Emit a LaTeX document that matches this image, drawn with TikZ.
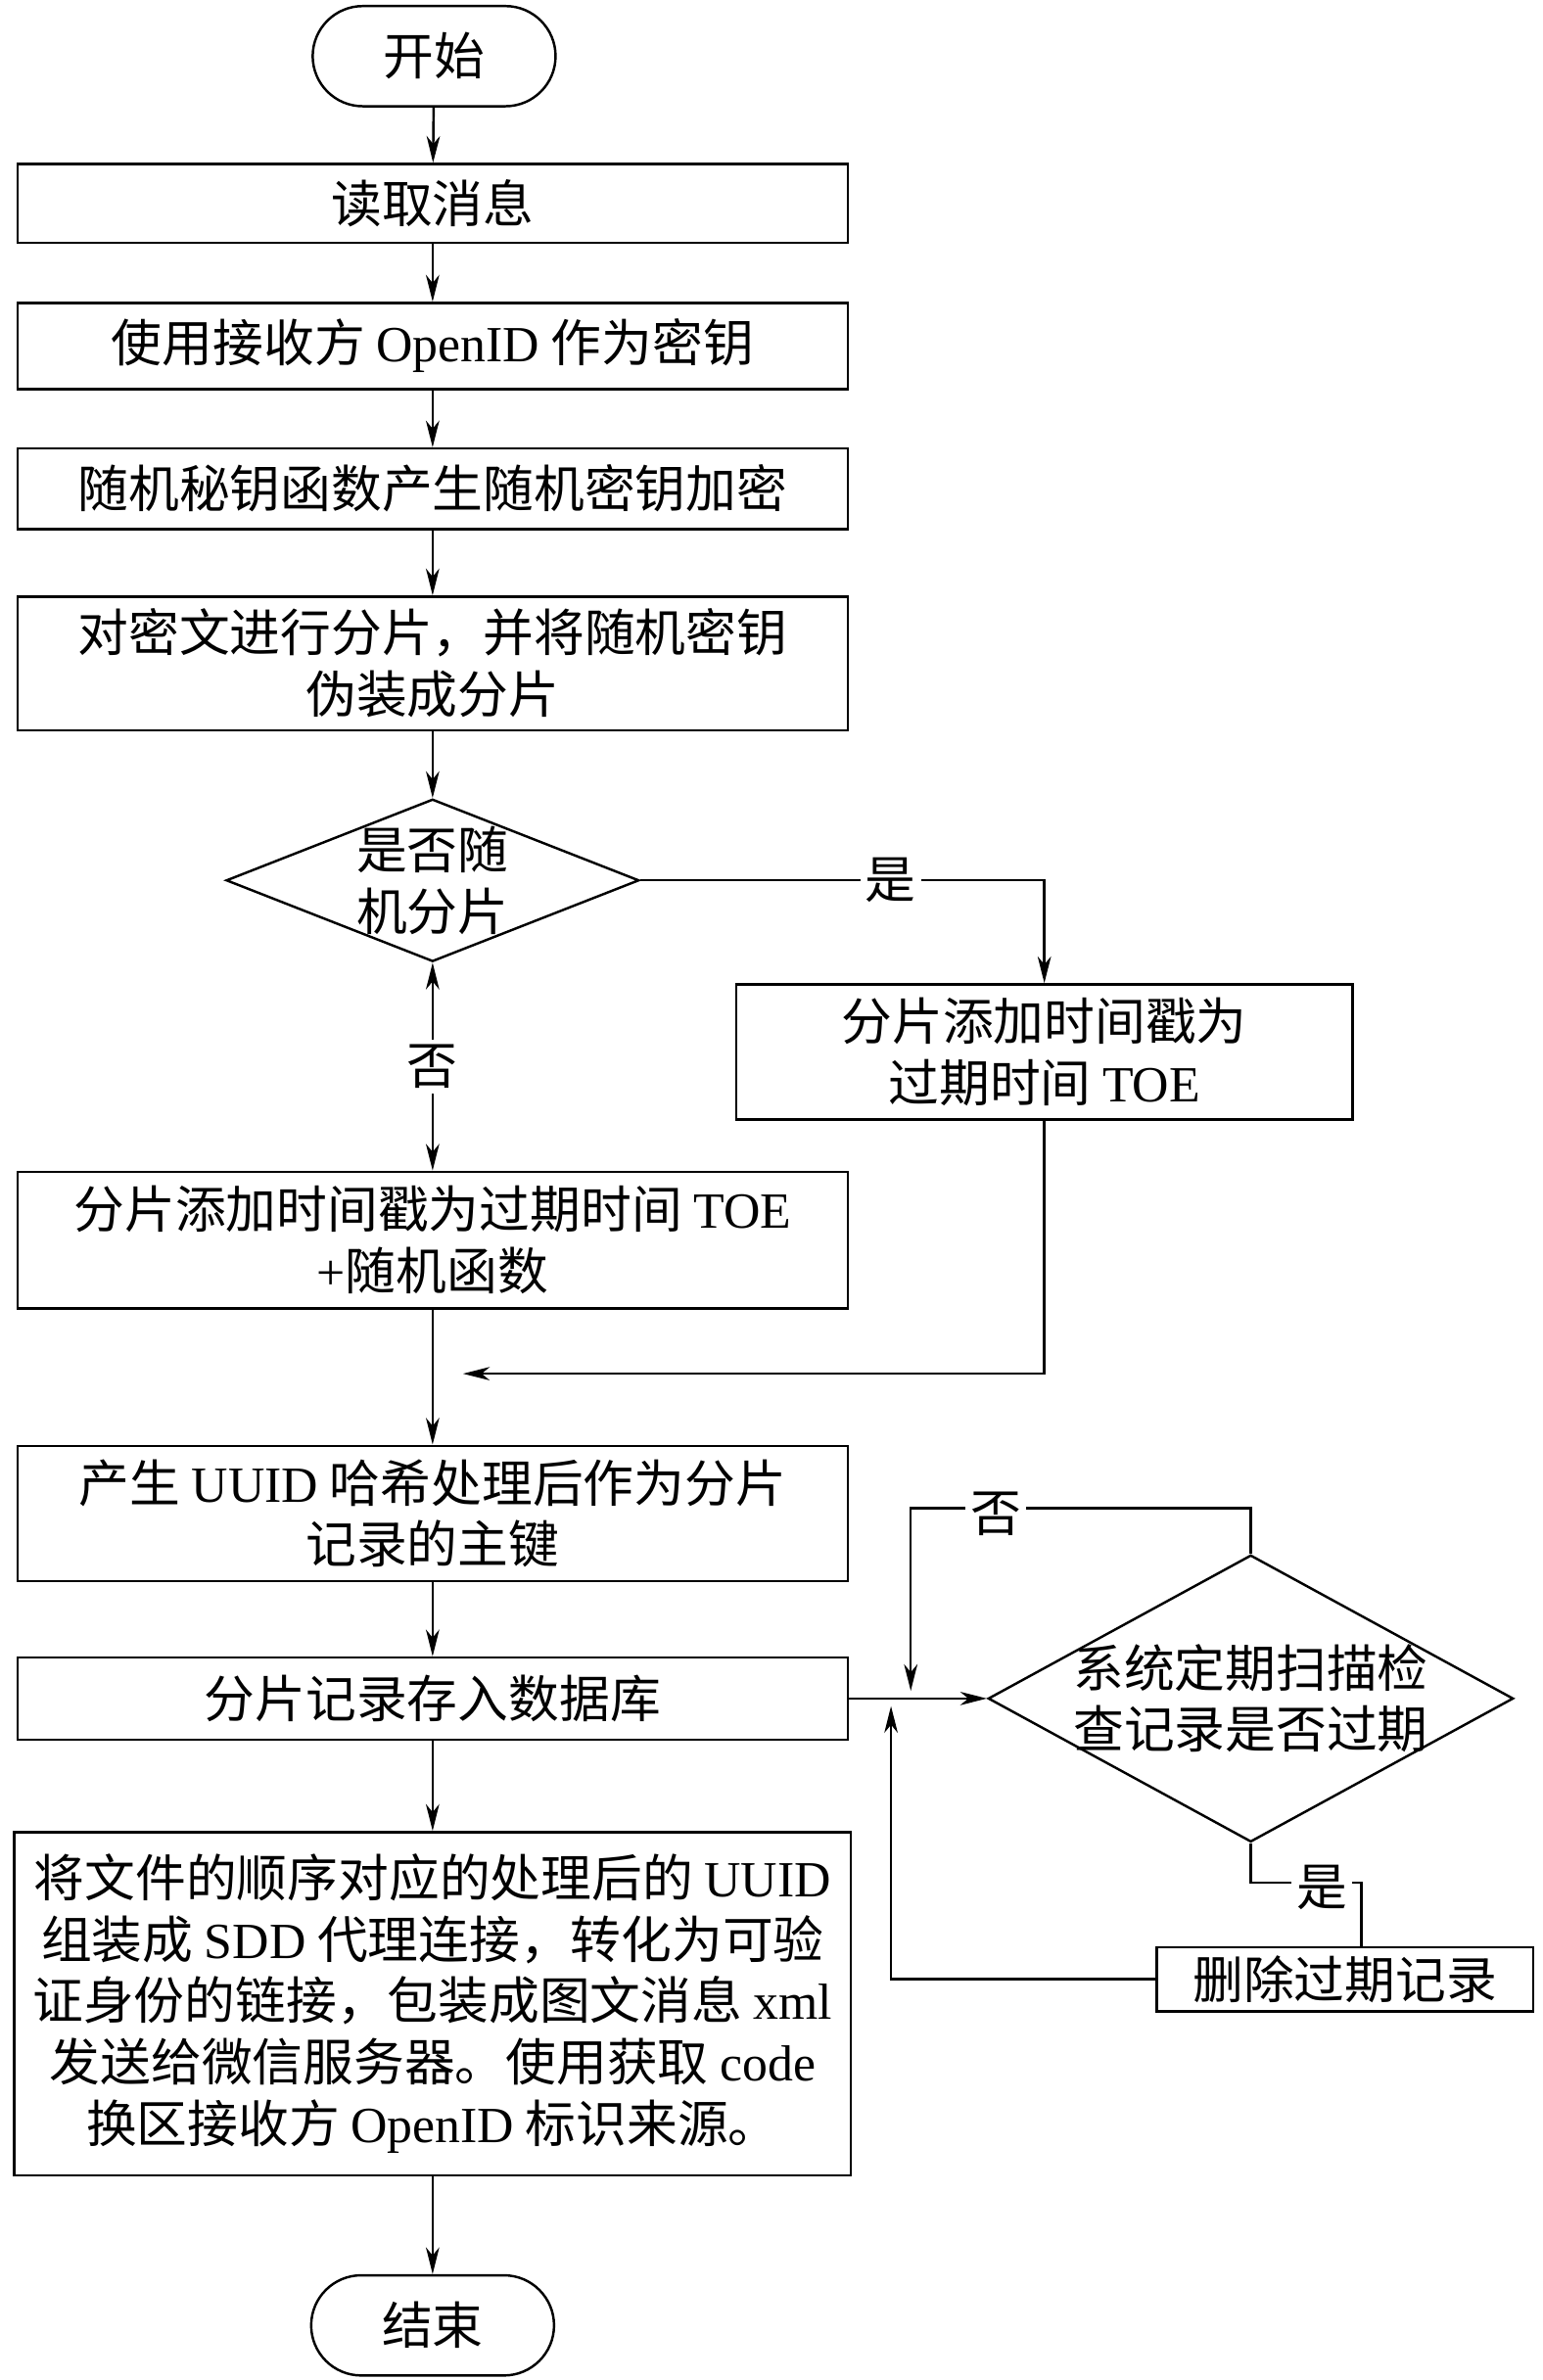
\documentclass[tikz,border=0pt]{standalone}
\usepackage{fontspec}
\setmainfont{Noto Sans CJK SC}
\newfontfamily\latinfont{Liberation Serif}
\newcommand{\ltn}[1]{{\latinfont #1}}
\usetikzlibrary{arrows.meta,shapes.geometric}

\begin{document}
\begin{tikzpicture}[x=0.2mm, y=-0.2mm, inner sep=0pt, font=\fontsize{19pt}{23pt}\selectfont]

    \tikzstyle{term}=[rectangle, rounded corners=0.66cm, draw, line width=0.9pt, minimum width=3.2cm, minimum height=1.32cm] \tikzstyle{proc}=[rectangle, draw, line width=0.9pt, minimum width=10.94cm, align=center] \tikzstyle{decide}=[diamond, draw, line width=0.9pt]
    \tikzstyle{flow}=[->, >={Stealth[length=10pt,width=5pt,inset=3pt]}, line width=0.9pt] \tikzstyle{lbl}=[fill=white, inner sep=2pt]

    \useasboundingbox (0,0) rectangle (1016,1568);

    \node[term] (start) at (286,37) {开始};
    \node[proc, minimum height=1.04cm] (read) at (285,134) {读取消息};
    \node[proc, minimum height=1.14cm] (key) at (285,228) {使用接收方 \ltn{OpenID} 作为密钥};
    \node[proc, minimum height=1.06cm] (enc) at (285,322) {随机秘钥函数产生随机密钥加密};
    \node[proc, minimum height=1.76cm] (split) at (285,437) {对密文进行分片，并将随机密钥\\伪装成分片};
    \node[decide, minimum width=5.44cm, minimum height=2.14cm, label={[align=center]center:是否随\\机分片}] (rnd) at (285,580) {};
    \node[proc, minimum width=8.12cm, minimum height=1.78cm] (toe) at (688,693) {分片添加时间戳为\\过期时间 \ltn{TOE}};
    \node[proc, minimum height=1.8cm] (toerf) at (285,817) {分片添加时间戳为过期时间 \ltn{TOE}\\\ltn{+}随机函数};
    \node[proc, minimum height=1.78cm] (uuid) at (285,997) {产生 \ltn{UUID} 哈希处理后作为分片\\记录的主键};
    \node[proc, minimum height=1.08cm] (db) at (285,1119) {分片记录存入数据库};
    \node[decide, minimum width=6.92cm, minimum height=3.78cm, label={[align=center]center:系统定期扫描检\\查记录是否过期}] (scan) at (824,1119) {};
    \node[proc, minimum width=4.96cm, minimum height=0.84cm] (del) at (886,1304) {删除过期记录};
    \node[proc, minimum width=11.02cm, minimum height=4.52cm] (send) at (285,1320) {将文件的顺序对应的处理后的 \ltn{UUID}\\组装成 \ltn{SDD} 代理连接，转化为可验\\证身份的链接，包装成图文消息 \ltn{xml}\\发送给微信服务器。使用获取 \ltn{code}\\换区接收方 \ltn{OpenID} 标识来源。};
    \node[term] (stop) at (285,1532) {结束};

    \coordinate (merge) at (305,905);
    \coordinate (loopa) at (600,1114);
    \coordinate (loopb) at (587,1124);

    \draw[flow] (start) -- (read);
    \draw[flow] (read) -- (key);
    \draw[flow] (key) -- (enc);
    \draw[flow] (enc) -- (split);
    \draw[flow] (split) -- (rnd);
    \draw[flow] (rnd.east) -| node[lbl, pos=0.31] {是} (toe.north);
    \draw[flow, <->] (rnd.south) -- node[lbl] {否} (toerf.north);
    \draw[flow] (toe.south) |- (merge);
    \draw[flow] (toerf) -- (uuid);
    \draw[flow] (uuid) -- (db);
    \draw[flow] (db.east) -- (scan.west);
    \draw[flow] (scan.north) -- ++(0,-30) -| node[lbl, pos=0.375, yshift=-2pt] {否} (loopa);
    \draw[flow, -] (scan.south) -- ++(0,26) -| node[lbl, pos=0.32, yshift=-2pt] {是} ([xshift=0.22cm] del.north);
    \draw[flow] (del.west) -| (loopb);
    \draw[flow] (db) -- (send);
    \draw[flow] (send) -- (stop);
  \end{tikzpicture}
\end{document}
